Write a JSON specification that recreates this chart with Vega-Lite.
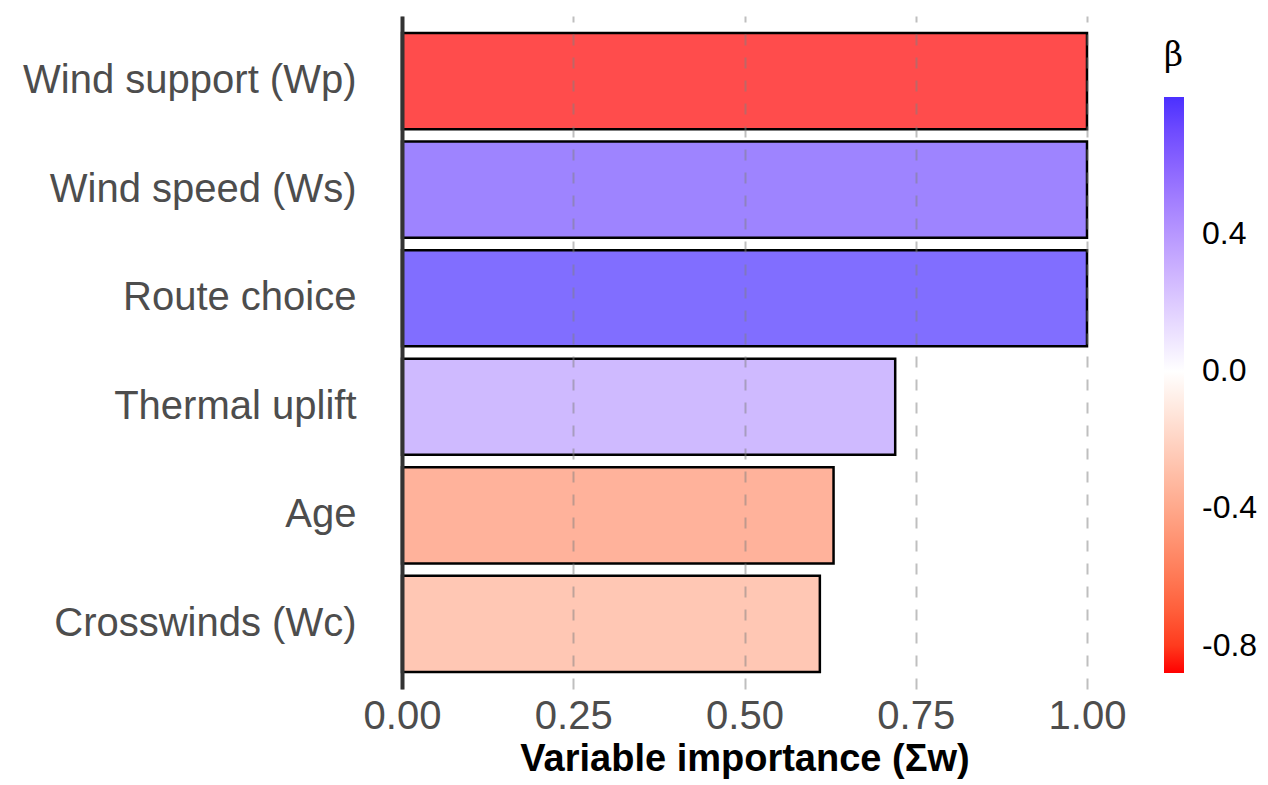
{
  "$schema": "https://vega.github.io/schema/vega-lite/v6.json",
  "autosize": {"type": "none"},
  "padding": {"left": 402, "top": 16, "right": 181, "bottom": 96},
  "width": 685,
  "height": 673,
  "background": "white",
  "config": {"view": {"stroke": null}, "font": "Liberation Sans"},
  "data": {
    "values": [
      {"variable": "Wind support (Wp)", "importance": 1.0, "beta": -0.88},
      {"variable": "Wind speed (Ws)", "importance": 1.0, "beta": 0.68},
      {"variable": "Route choice", "importance": 1.0, "beta": 0.80},
      {"variable": "Thermal uplift", "importance": 0.72, "beta": 0.38},
      {"variable": "Age", "importance": 0.63, "beta": -0.5},
      {"variable": "Crosswinds (Wc)", "importance": 0.61, "beta": -0.37}
    ]
  },
  "mark": {"type": "bar", "stroke": "black", "strokeWidth": 2.5, "fillOpacity": 0.7},
  "encoding": {
    "y": {
      "field": "variable",
      "type": "nominal",
      "sort": null,
      "scale": {"paddingInner": 0.114, "paddingOuter": 0.157},
      "axis": {
        "title": null,
        "ticks": false,
        "labelFontSize": 40,
        "labelLimit": 0,
        "labelColor": "#4D4D4D",
        "labelPadding": 46,
        "domainColor": "#333333",
        "domainWidth": 4,
        "grid": false,
        "zindex": 2
      }
    },
    "x": {
      "field": "importance",
      "type": "quantitative",
      "scale": {"domain": [0, 1], "nice": false, "zero": true},
      "axis": {
        "title": "Variable importance (Σw)",
        "titleFontSize": 38,
        "titleFontWeight": "bold",
        "titleColor": "black",
        "titlePadding": 4,
        "values": [0, 0.25, 0.5, 0.75, 1],
        "format": ".2f",
        "labelFontSize": 40,
        "labelColor": "#4D4D4D",
        "labelPadding": 7,
        "labelFlush": false,
        "ticks": false,
        "domain": false,
        "grid": true,
        "gridColor": "#7F7F7F",
        "gridOpacity": 0.5,
        "gridWidth": 2,
        "gridDash": [11, 12],
        "zindex": 1
      }
    },
    "fill": {
      "field": "beta",
      "type": "quantitative",
      "scale": {
        "domain": [-0.88, 0, 0.8],
        "range": ["#FF0000", "#FFFFFF", "#4B30FF"],
        "interpolate": "lab"
      },
      "legend": {
        "title": "β",
        "orient": "none",
        "legendX": 762,
        "legendY": 24,
        "direction": "vertical",
        "titleFont": "DejaVu Serif",
        "titleFontSize": 33,
        "titleFontWeight": "normal",
        "titleColor": "black",
        "titlePadding": 24,
        "gradientLength": 576,
        "gradientThickness": 20,
        "gradientStrokeWidth": 0,
        "values": [-0.8, -0.4, 0, 0.4],
        "labelExpr": "replace(format(datum.value, '.1f'), '−', '-')",
        "labelFontSize": 32,
        "labelColor": "black",
        "labelOffset": 18,
        "labelOverlap": false
      }
    }
  }
}
